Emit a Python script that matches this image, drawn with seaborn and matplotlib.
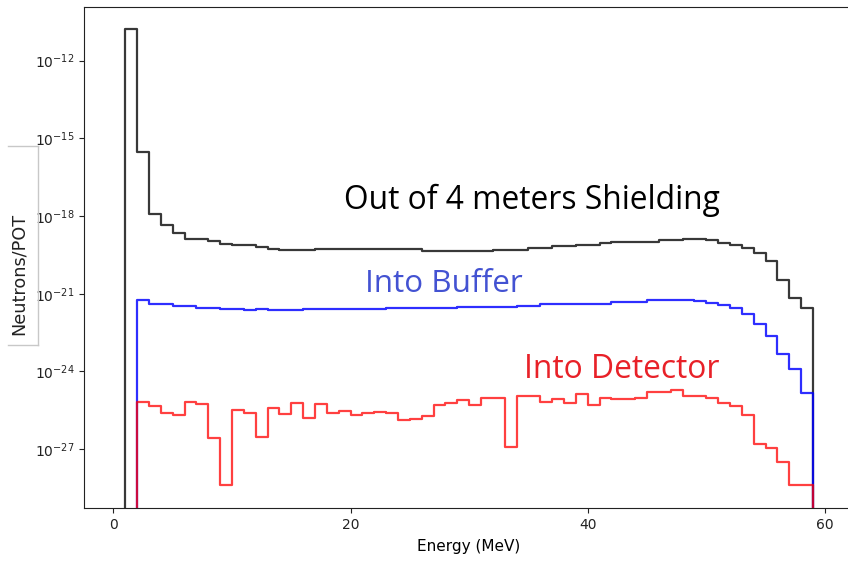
import numpy as np
import pandas as pd
import matplotlib
matplotlib.use("Agg")
import matplotlib.pyplot as plt
from matplotlib.lines import Line2D
from matplotlib.ticker import FixedLocator, NullLocator, LogFormatterSciNotation
import seaborn as sns

# ---------------- data ----------------
energy_edges = list(range(1, 60))          # MeV, 1 MeV bins from 1 to 59

shield_start = 1
shield_values = [
    1.6e-11, 3.1e-16, 1.2e-18, 4.4e-19, 2.3e-19, 1.3e-19, 1.3e-19, 1.05e-19,
    8.5e-20, 7.8e-20, 7.8e-20, 6.2e-20, 5.2e-20, 4.8e-20, 4.8e-20, 4.8e-20,
    5.5e-20, 5.5e-20, 5.5e-20, 5.5e-20, 5.5e-20, 5.5e-20, 5.5e-20, 5.5e-20,
    5.5e-20, 4.6e-20, 4.6e-20, 4.6e-20, 4.3e-20, 4.3e-20, 4.3e-20, 5.0e-20,
    5.0e-20, 5.0e-20, 5.8e-20, 5.8e-20, 6.9e-20, 6.9e-20, 7.4e-20, 7.8e-20,
    8.9e-20, 9.8e-20, 9.8e-20, 9.8e-20, 9.8e-20, 1.15e-19, 1.15e-19, 1.3e-19,
    1.3e-19, 1.15e-19, 8.9e-20, 7.8e-20, 6.0e-20, 3.8e-20, 1.86e-20, 3.5e-21,
    6.9e-22, 2.8e-22,
]

buffer_start = 2
buffer_values = [
    5.5e-22, 3.9e-22, 3.9e-22, 3.3e-22, 3.3e-22, 2.9e-22, 2.9e-22, 2.5e-22,
    2.5e-22, 2.3e-22, 2.6e-22, 2.3e-22, 2.3e-22, 2.3e-22, 2.6e-22, 2.6e-22,
    2.6e-22, 2.6e-22, 2.5e-22, 2.5e-22, 2.5e-22, 2.8e-22, 2.8e-22, 2.8e-22,
    2.8e-22, 2.8e-22, 2.8e-22, 3.2e-22, 3.2e-22, 3.2e-22, 3.2e-22, 3.2e-22,
    3.5e-22, 3.5e-22, 3.9e-22, 3.9e-22, 3.9e-22, 4.1e-22, 4.2e-22, 4.2e-22,
    4.8e-22, 4.8e-22, 4.8e-22, 5.5e-22, 5.5e-22, 6.0e-22, 6.0e-22, 5.2e-22,
    4.6e-22, 3.8e-22, 2.9e-22, 1.7e-22, 7.1e-23, 2.3e-23, 4.6e-24, 1.2e-24,
    1.5e-25,
]

detector_start = 2
detector_values = [
    6.6e-26, 4.6e-26, 2.6e-26, 2.0e-26, 6.5e-26, 5.4e-26, 2.6e-27, 4.1e-29,
    3.4e-26, 2.6e-26, 3.0e-27, 3.9e-26, 2.2e-26, 6.0e-26, 1.6e-26, 5.4e-26,
    2.5e-26, 3.0e-26, 2.0e-26, 2.5e-26, 2.8e-26, 2.5e-26, 1.3e-26, 1.45e-26,
    1.9e-26, 5.0e-26, 6.0e-26, 7.8e-26, 5.0e-26, 9.8e-26, 9.8e-26, 1.2e-27,
    1.1e-25, 1.1e-25, 6.9e-26, 8.7e-26, 6.0e-26, 1.3e-25, 5.0e-26, 9.8e-26,
    8.5e-26, 8.5e-26, 9.8e-26, 1.6e-25, 1.6e-25, 1.9e-25, 1.1e-25, 1.1e-25,
    9.8e-26, 6.0e-26, 4.6e-26, 2.0e-26, 1.55e-27, 1.15e-27, 3.2e-28, 4.1e-29,
    4.1e-29,
]

y_tick_values = [1e-27, 1e-24, 1e-21, 1e-18, 1e-15, 1e-12]
x_tick_values = [0, 20, 40, 60]

labels = ["Out of 4 meters Shielding", "Into Buffer", "Into Detector"]


def step_frame(start, values):
    """Outline of a step histogram (drops to zero at both ends)."""
    i0 = energy_edges.index(start)
    edges = energy_edges[i0:i0 + len(values) + 1]
    x = [edges[0]] + edges + [edges[-1]]
    y = [0.0] + list(values) + [values[-1], 0.0]
    return pd.DataFrame({"energy": x, "flux": y})


# ---------------- figure ----------------
W, H = 848, 561
fig = plt.figure(figsize=(W / 100, H / 100), dpi=100)
ax_left, ax_right, ax_top, ax_bottom = 84.3, 851.0, 7.0, 508.0
ax = fig.add_axes([ax_left / W, 1 - ax_bottom / H,
                   (ax_right - ax_left) / W, (ax_bottom - ax_top) / H])

series = [
    (shield_start, shield_values, "black", 0.78),
    (buffer_start, buffer_values, "blue", 0.82),
    (detector_start, detector_values, "red", 0.75),
]
for start, vals, col, a in series:
    df = step_frame(start, vals)
    sns.lineplot(data=df, x="energy", y="flux", sort=False, estimator=None,
                 drawstyle="steps-post", color=col, alpha=a, linewidth=1.6,
                 ax=ax)

ax.set_yscale("log")
ax.set_xlim(-2.45, 62.2)
ax.set_ylim(10 ** -29.27, 10 ** -9.93)
ax.yaxis.set_major_locator(FixedLocator(y_tick_values))
ax.yaxis.set_major_formatter(LogFormatterSciNotation())
ax.yaxis.set_minor_locator(NullLocator())
ax.set_xticks(x_tick_values)
ax.tick_params(labelsize=10, colors="#222222")
for s in ax.spines.values():
    s.set_color("#222222")

ax.set_ylabel("")
ax.set_xlabel("Energy (MeV)", fontsize=11)
ax.xaxis.set_label_coords((469 - ax_left) / (ax_right - ax_left),
                          -(539 - ax_bottom) / (ax_bottom - ax_top))

# y-label with its light frame
fig.text(18.5 / W, 1 - 274 / H, "Neutrons/POT", rotation=90,
         ha="center", va="center", fontsize=12.7, color="#222222")
frame_kw = dict(color="#c8c8c8", linewidth=1.0, transform=fig.transFigure)
fig.add_artist(Line2D([8 / W, 38 / W], [1 - 146 / H, 1 - 146 / H], **frame_kw))
fig.add_artist(Line2D([38 / W, 38 / W], [1 - 146 / H, 1 - 345 / H], **frame_kw))
fig.add_artist(Line2D([8 / W, 38 / W], [1 - 345 / H, 1 - 345 / H], **frame_kw))

# annotations
ann_font = ["Open Sans", "DejaVu Sans"]
ax.text(35.3, 10 ** -17.40, labels[0], ha="center", va="center",
        fontsize=22.9, color="black", family=ann_font)
ax.text(27.9, 10 ** -20.64, labels[1], ha="center", va="center",
        fontsize=22.6, color="#4352d2", family=ann_font)
ax.text(42.9, 10 ** -23.92, labels[2], ha="center", va="center",
        fontsize=22.9, color="#e82128", family=ann_font)

fig.savefig("out.png", dpi=100)
